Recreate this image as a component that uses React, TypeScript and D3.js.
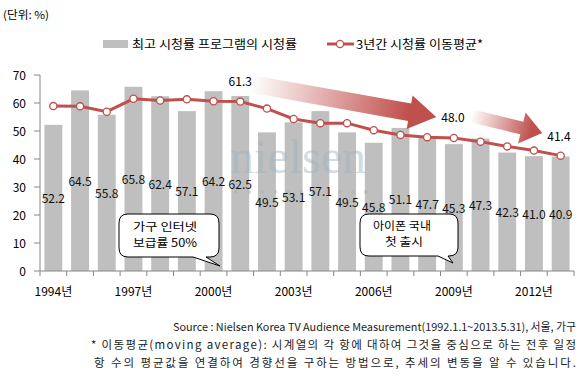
import React from "react";
import * as d3 from "d3";

const years = [1994, 1995, 1996, 1997, 1998, 1999, 2000, 2001, 2002, 2003, 2004, 2005, 2006, 2007, 2008, 2009, 2010, 2011, 2012, 2013];
const peakRatings = [52.2, 64.5, 55.8, 65.8, 62.4, 57.1, 64.2, 62.5, 49.5, 53.1, 57.1, 49.5, 45.8, 51.1, 47.7, 45.3, 47.3, 42.3, 41.0, 40.9];
const movingAvg = [58.9, 58.8, 56.9, 61.5, 60.9, 61.3, 60.6, 60.5, 58.0, 54.3, 52.8, 52.8, 50.3, 48.6, 47.8, 47.5, 46.2, 44.5, 43.0, 41.2];
const yTicks = [0, 10, 20, 30, 40, 50, 60, 70];
const xLabelYears = [1994, 1997, 2000, 2003, 2006, 2009, 2012];
const trendLabels = ["61.3", "48.0", "41.4"];
const trendLabelYears = [2001.0, 2008.53, 2012.5];
const trendLabelValues = [67.9, 55.0, 48.2];

const W = 587;
const H = 376;
const left = 40;
const right = 574;
const top = 75;
const bottom = 271;
const RED = "#c0504d";
const FONT = "'Noto Sans CJK KR', 'Noto Sans', sans-serif";

export default function App() {
  const x = d3
    .scaleBand<number>()
    .domain(years)
    .range([left, right])
    .paddingInner(0.33)
    .paddingOuter(0.165);
  const y = d3.scaleLinear().domain([0, 70]).range([bottom, top]);
  const step = x.step();
  const cx = (yr: number) => left + step / 2 + (yr - years[0]) * step;

  const line = d3
    .line<number>()
    .x((_, i) => cx(years[i]))
    .y((d) => y(d));

  const arrow = (
    id: string,
    a: [number, number],
    t: [number, number],
    hw: number,
    hh: number,
    hl: number
  ) => {
    const x0 = cx(a[0]);
    const y0 = y(a[1]);
    const x1 = cx(t[0]);
    const y1 = y(t[1]);
    const len = Math.hypot(x1 - x0, y1 - y0);
    const ang = (Math.atan2(y1 - y0, x1 - x0) * 180) / Math.PI;
    const p = `M0,${-hw} L${len - hl},${-hw} L${len - hl},${-hh} L${len},0 L${len - hl},${hh} L${len - hl},${hw} L0,${hw} Z`;
    return (
      <g transform={`translate(${x0},${y0}) rotate(${ang})`}>
        <defs>
          <linearGradient id={id} x1="0" x2="1" y1="0" y2="0">
            <stop offset="0" stopColor={RED} stopOpacity={0} />
            <stop offset="0.85" stopColor={RED} stopOpacity={1} />
            <stop offset="1" stopColor={RED} stopOpacity={1} />
          </linearGradient>
        </defs>
        <path d={p} fill={`url(#${id})`} />
      </g>
    );
  };

  const callout = (
    x0: number,
    y0: number,
    x1: number,
    y1: number,
    b1: number,
    b2: number,
    tx: number,
    ty: number
  ) => {
    const r = 9;
    const d = `M${x0 + r},${y0} H${x1 - r} Q${x1},${y0} ${x1},${y0 + r} V${y1 - r} Q${x1},${y1} ${x1 - r},${y1} H${b2} L${tx},${ty} L${b1},${y1} H${x0 + r} Q${x0},${y1} ${x0},${y1 - r} V${y0 + r} Q${x0},${y0} ${x0 + r},${y0} Z`;
    return <path d={d} fill="#fff" stroke="#000" strokeWidth={1} />;
  };

  const dots = d3.range(11).map((i) => 236 + i * 13);

  return (
    <svg
      width={W}
      height={H}
      style={{ position: "absolute", left: 0, top: 0, background: "#fff" }}
      fontFamily={FONT}
    >
      <rect width={W} height={H} fill="#fff" />
      {/* unit */}
      <text x={3} y={19} fontSize={11} textLength={46} lengthAdjust="spacingAndGlyphs" fill="#000">
        (단위: %)
      </text>

      {/* legend */}
      <rect x={103} y={40} width={25} height={8} fill="#bfbfbf" />
      <text x={132} y={49} fontSize={12} textLength={165} lengthAdjust="spacingAndGlyphs" fill="#000">
        최고 시청률 프로그램의 시청률
      </text>
      <line x1={327} x2={354} y1={44} y2={44} stroke={RED} strokeWidth={3} />
      <circle cx={340} cy={44} r={3.6} fill="#fff" stroke={RED} strokeWidth={1.3} />
      <text x={356} y={49} fontSize={12} textLength={127} lengthAdjust="spacingAndGlyphs" fill="#000">
        3년간 시청률 이동평균*
      </text>

      {/* bars */}
      {peakRatings.map((v, i) => (
        <rect
          key={years[i]}
          x={x(years[i])}
          y={y(v)}
          width={x.bandwidth()}
          height={bottom - y(v)}
          fill="#bfbfbf"
        />
      ))}

      {/* watermark */}
      <text
        x={230}
        y={173}
        fontFamily="'Liberation Serif', serif"
        fontSize={48}
        fill="#9db3c3"
        opacity={0.45}
      >
        nielsen
      </text>
      {dots.map((d) => (
        <circle key={d} cx={d} cy={192} r={2} fill="#b0b0b0" opacity={0.5} />
      ))}

      {/* axes */}
      <line x1={left} x2={left} y1={top} y2={bottom} stroke="#868686" />
      {yTicks.map((t) => (
        <g key={t}>
          <line x1={34} x2={left} y1={y(t)} y2={y(t)} stroke="#868686" />
          <text x={26} y={y(t) + 4.5} fontSize={12} textAnchor="end" fill="#000">
            {t}
          </text>
        </g>
      ))}
      <line x1={left} x2={right} y1={bottom} y2={bottom} stroke="#868686" />
      {d3.range(years.length + 1).map((i) => (
        <line
          key={i}
          x1={left + i * step}
          x2={left + i * step}
          y1={bottom}
          y2={bottom + 5}
          stroke="#868686"
        />
      ))}
      {xLabelYears.map((yr) => (
        <text key={yr} x={cx(yr)} y={296} fontSize={12} textAnchor="middle" fill="#000">
          {yr}년
        </text>
      ))}

      {/* value labels */}
      {peakRatings.map((v, i) => (
        <text
          key={years[i]}
          x={cx(years[i])}
          y={y(v / 2) + 5}
          fontSize={12}
          textAnchor="middle"
          fill="#111"
        >
          {v.toFixed(1)}
        </text>
      ))}

      {/* moving average line */}
      <path d={line(movingAvg) || ""} fill="none" stroke={RED} strokeWidth={3} />
      {movingAvg.map((v, i) => (
        <circle
          key={years[i]}
          cx={cx(years[i])}
          cy={y(v)}
          r={3.6}
          fill="#fff"
          stroke={RED}
          strokeWidth={1.3}
        />
      ))}

      {/* trend arrows */}
      {arrow("g1", [2001.42, 66.8], [2008.34, 55.0], 8.8, 17, 27)}
      {arrow("g2", [2009.66, 55.4], [2012.31, 49.3], 6.5, 16, 21)}
      {trendLabels.map((s, i) => (
        <text
          key={s}
          x={cx(trendLabelYears[i])}
          y={y(trendLabelValues[i]) + 5}
          fontSize={12}
          textAnchor={i === 0 ? "middle" : "start"}
          fill="#000"
        >
          {s}
        </text>
      ))}

      {/* callouts */}
      {callout(119, 214, 219, 257, 193, 206, 220, 266)}
      <text x={133} y={231} fontSize={11.5} textLength={64} lengthAdjust="spacingAndGlyphs" fill="#000">
        가구 인터넷
      </text>
      <text x={133} y={247} fontSize={11.5} textLength={64} lengthAdjust="spacingAndGlyphs" fill="#000">
        보급률 50%
      </text>
      {callout(360, 214, 458, 256, 438, 448, 453, 263)}
      <text x={402} y={230} fontSize={11.5} textAnchor="middle" textLength={58} lengthAdjust="spacingAndGlyphs" fill="#000">
        아이폰 국내
      </text>
      <text x={404} y={246} fontSize={11.5} textAnchor="middle" textLength={38} lengthAdjust="spacingAndGlyphs" fill="#000">
        첫 출시
      </text>

      {/* footer */}
      <text x={576} y={331} fontSize={11} textAnchor="end" textLength={403} lengthAdjust="spacingAndGlyphs" fill="#222">
        Source : Nielsen Korea TV Audience Measurement(1992.1.1~2013.5.31), 서울, 가구
      </text>
      <text x={576} y={349} fontSize={11.5} textAnchor="end" textLength={485} lengthAdjust="spacing" fill="#222">
        * 이동평균(moving average):  시계열의 각 항에 대하여 그것을 중심으로 하는 전후 일정
      </text>
      <text x={576} y={367} fontSize={11.5} textAnchor="end" textLength={482} lengthAdjust="spacing" fill="#222">
        항 수의 평균값을 연결하여 경향선을 구하는 방법으로, 추세의 변동을 알 수 있습니다.
      </text>
    </svg>
  );
}
